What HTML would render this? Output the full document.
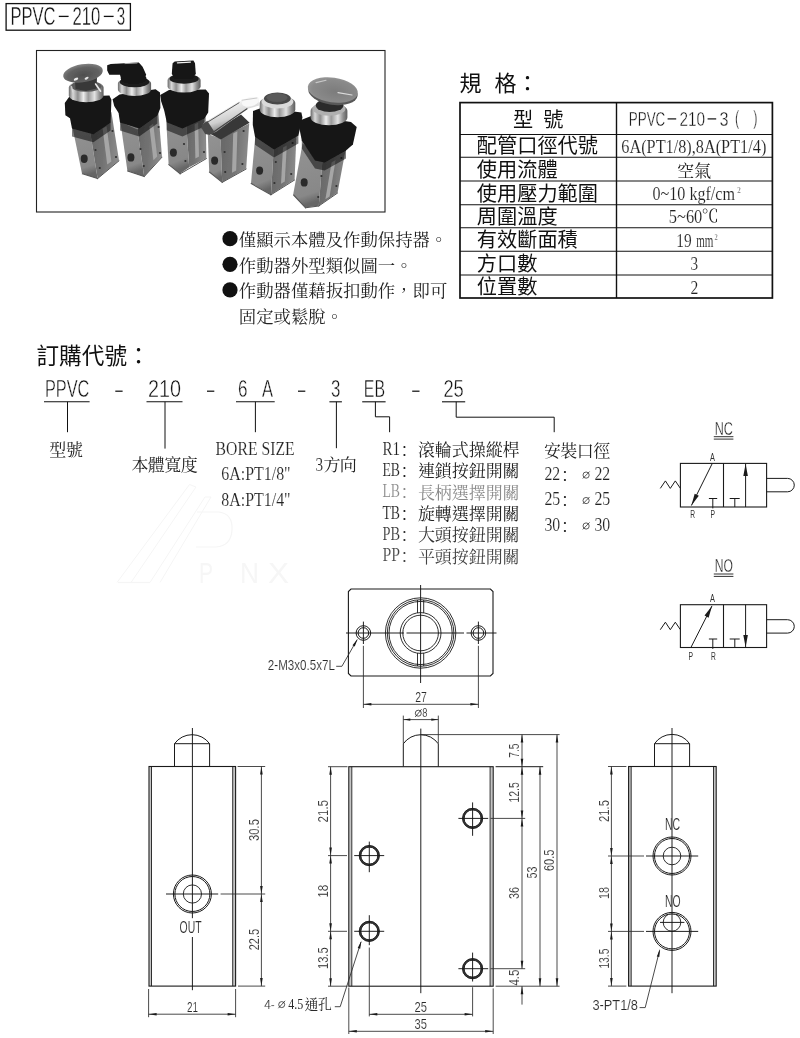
<!DOCTYPE html>
<html lang="zh-Hant"><head><meta charset="utf-8"><title>PPVC-210-3</title>
<style>
html,body{margin:0;padding:0;background:#fff}
body{width:800px;height:1038px;overflow:hidden;font-family:"Liberation Sans",sans-serif}
svg{display:block;opacity:.999}
text{white-space:pre}
</style></head><body>
<svg width="800" height="1038" viewBox="0 0 800 1038">
<rect width="800" height="1038" fill="#fff"/>
<defs>
<filter id="pb" x="-5%" y="-5%" width="110%" height="110%"><feGaussianBlur stdDeviation="0.6"/></filter>
<linearGradient id="gFront" x1="0" y1="0" x2="0.15" y2="1"><stop offset="0" stop-color="#939393"/><stop offset="0.85" stop-color="#888888"/><stop offset="1" stop-color="#666666"/></linearGradient>
<linearGradient id="gSide" x1="0" y1="0" x2="1" y2="0.2"><stop offset="0" stop-color="#676767"/><stop offset="0.55" stop-color="#727272"/><stop offset="1" stop-color="#8a8a8a"/></linearGradient>
<linearGradient id="gChrome" x1="0" y1="0" x2="1" y2="0"><stop offset="0" stop-color="#6a6a6a"/><stop offset="0.12" stop-color="#d8d8d8"/><stop offset="0.26" stop-color="#8e8e8e"/><stop offset="0.42" stop-color="#ececec"/><stop offset="0.56" stop-color="#9a9a9a"/><stop offset="0.74" stop-color="#e2e2e2"/><stop offset="0.88" stop-color="#909090"/><stop offset="1" stop-color="#5c5c5c"/></linearGradient>
<radialGradient id="gCap" cx="0.5" cy="0.6" r="0.62"><stop offset="0" stop-color="#4e4e4e"/><stop offset="0.65" stop-color="#626262"/><stop offset="1" stop-color="#868686"/></radialGradient>
<radialGradient id="gCap2" cx="0.55" cy="0.55" r="0.65"><stop offset="0" stop-color="#7c7c7c"/><stop offset="0.7" stop-color="#8a8a8a"/><stop offset="1" stop-color="#a2a2a2"/></radialGradient>
<linearGradient id="gLever" x1="0" y1="0" x2="0.45" y2="1"><stop offset="0" stop-color="#7a7a7a"/><stop offset="0.3" stop-color="#f4f4f4"/><stop offset="0.65" stop-color="#cfcfcf"/><stop offset="1" stop-color="#5a5a5a"/></linearGradient>
</defs>
<g filter="url(#pb)">
<polygon points="72.0,125.0 90.2,132.0 97.6,178.4 82.0,173.6" fill="url(#gFront)"/>
<polygon points="90.2,132.0 111.4,112.0 119.0,160.4 97.6,178.4" fill="url(#gSide)"/>
<polygon points="102.6,128.6 106.6,126.2 111.4,161.6 107.2,164.6" fill="#a6a6a6"/>
<ellipse cx="84.2" cy="158.8" rx="3.5" ry="4.2" fill="#2a2a2a"/>
<ellipse cx="95.5" cy="150.0" rx="1.1" ry="1.1" fill="#303030"/>
<ellipse cx="99.8" cy="168.0" rx="1.1" ry="1.1" fill="#303030"/>
<ellipse cx="112.5" cy="131.0" rx="1.1" ry="1.1" fill="#303030"/>
<ellipse cx="116.0" cy="157.0" rx="1.1" ry="1.1" fill="#303030"/>
<line x1="82.4" y1="173.8" x2="97.6" y2="178.6" stroke="#555" stroke-width="1.1" stroke-linecap="round"/>
<line x1="97.6" y1="178.6" x2="119.0" y2="160.8" stroke="#555" stroke-width="1.0" stroke-linecap="round"/>
<polygon points="72.0,127.4 93.4,133.2 110.6,121.6 110.6,130.6 93.4,142.2 72.0,136.4" fill="#000" opacity="0.50"/>
<polygon points="64.8,103.0 69.2,96.8 109.4,95.6 111.4,99.8 110.6,122.6 93.4,134.2 72.0,128.4 70.0,118.2 65.4,115.2" fill="#141414"/>
<path d="M68.8 87.6A17.4 6.8 0 0 1 103.6 87.6V95.4A17.4 6.8 0 0 1 68.8 95.4Z" fill="url(#gChrome)"/>
<ellipse cx="86.2" cy="86.2" rx="15.2" ry="5.6" fill="#5a5a5a"/>
<polygon points="75.0,79.0 97.0,78.0 96.5,88.5 86.0,91.0 75.5,89.0" fill="#383838"/>
<line x1="95.6" y1="84.0" x2="100.6" y2="91.2" stroke="#e8e8e8" stroke-width="1.6" stroke-linecap="round"/>
<line x1="71.6" y1="86.6" x2="72.8" y2="92.0" stroke="#d8d8d8" stroke-width="1.2" stroke-linecap="round"/>
<ellipse cx="83.0" cy="73.2" rx="20.0" ry="9.0" fill="url(#gCap)" transform="rotate(-9.5 83.0 73.2)"/>
<ellipse cx="76.0" cy="79.2" rx="2.4" ry="1.2" fill="#ececec" transform="rotate(-25.0 76.0 79.2)"/>
<ellipse cx="86.6" cy="78.2" rx="2.2" ry="1.1" fill="#e4e4e4" transform="rotate(-30.0 86.6 78.2)"/>
<polygon points="120.4,122.0 137.4,129.4 144.2,176.4 127.4,170.8" fill="url(#gFront)"/>
<polygon points="137.4,129.4 158.0,108.0 162.0,156.8 144.2,176.4" fill="url(#gSide)"/>
<polygon points="149.4,126.4 153.2,123.4 157.2,156.4 153.4,160.2" fill="#a6a6a6"/>
<ellipse cx="130.9" cy="157.4" rx="3.5" ry="4.2" fill="#2a2a2a"/>
<ellipse cx="140.5" cy="149.0" rx="1.1" ry="1.1" fill="#303030"/>
<ellipse cx="143.8" cy="166.0" rx="1.1" ry="1.1" fill="#303030"/>
<ellipse cx="158.6" cy="127.0" rx="1.1" ry="1.1" fill="#303030"/>
<ellipse cx="160.0" cy="153.0" rx="1.1" ry="1.1" fill="#303030"/>
<line x1="127.6" y1="171.0" x2="144.2" y2="176.6" stroke="#555" stroke-width="1.1" stroke-linecap="round"/>
<line x1="144.2" y1="176.6" x2="162.0" y2="157.2" stroke="#555" stroke-width="1.0" stroke-linecap="round"/>
<polygon points="120.0,121.6 139.2,127.6 157.4,114.6 157.4,123.6 139.2,136.6 120.0,130.6" fill="#000" opacity="0.50"/>
<polygon points="112.6,99.3 119.6,94.6 155.6,89.2 160.0,92.4 160.4,108.0 157.4,115.6 139.2,128.6 120.0,122.6 118.6,113.0 114.2,106.0" fill="#141414"/>
<path d="M117.9 83.6A16.6 6.6 0 0 1 151.1 83.6V89.4A16.6 6.6 0 0 1 117.9 89.4Z" fill="url(#gChrome)"/>
<ellipse cx="134.5" cy="82.0" rx="14.8" ry="5.2" fill="#1a1a1a"/>
<ellipse cx="133.6" cy="78.4" rx="12.8" ry="5.0" fill="#141414"/>
<polygon points="107.2,65.3 110.8,63.9 138.8,62.4 142.6,66.8 146.2,74.8 143.2,80.4 121.6,80.4 120.0,74.8 109.3,74.8 107.2,70.4" fill="#141414"/>
<line x1="125.0" y1="63.6" x2="137.0" y2="63.0" stroke="#a8a8a8" stroke-width="1.0" stroke-linecap="round"/>
<polygon points="165.8,112.0 186.0,120.0 189.2,167.2 180.2,173.6 168.6,164.2" fill="url(#gFront)"/>
<polygon points="186.0,120.0 205.6,110.0 206.4,158.2 189.2,167.2" fill="url(#gSide)"/>
<polygon points="194.6,124.6 198.2,122.6 199.0,156.4 195.4,158.6" fill="#a6a6a6"/>
<ellipse cx="173.4" cy="152.6" rx="3.5" ry="4.2" fill="#2a2a2a"/>
<ellipse cx="184.0" cy="144.0" rx="1.1" ry="1.1" fill="#303030"/>
<ellipse cx="185.4" cy="161.0" rx="1.1" ry="1.1" fill="#303030"/>
<ellipse cx="203.6" cy="127.0" rx="1.1" ry="1.1" fill="#303030"/>
<ellipse cx="204.0" cy="152.0" rx="1.1" ry="1.1" fill="#303030"/>
<line x1="168.8" y1="164.6" x2="180.2" y2="173.8" stroke="#555" stroke-width="1.1" stroke-linecap="round"/>
<line x1="180.2" y1="173.8" x2="206.4" y2="158.6" stroke="#555" stroke-width="1.0" stroke-linecap="round"/>
<polygon points="166.8,121.2 182.4,127.4 204.4,117.4 204.4,126.4 182.4,136.4 166.8,130.2" fill="#000" opacity="0.50"/>
<polygon points="160.2,95.0 169.0,90.0 205.8,89.6 209.0,93.6 208.2,112.4 204.4,118.4 182.4,128.4 166.8,122.2 164.2,110.6 161.2,101.4" fill="#141414"/>
<path d="M167.6 80.4A16.5 6.4 0 0 1 200.6 80.4V86.2A16.5 6.4 0 0 1 167.6 86.2Z" fill="url(#gChrome)"/>
<ellipse cx="184.1" cy="78.8" rx="14.6" ry="5.0" fill="#1a1a1a"/>
<polygon points="172.6,63.2 174.7,61.4 193.4,60.5 195.0,63.2 195.8,74.0 192.0,78.4 174.7,78.4 171.8,74.0" fill="#141414"/>
<line x1="177.4" y1="62.8" x2="190.4" y2="62.1" stroke="#f2f2f2" stroke-width="1.3" stroke-linecap="round"/>
<polygon points="207.8,134.0 220.6,138.6 222.2,182.2 209.2,171.6" fill="url(#gFront)"/>
<polygon points="220.6,138.6 249.2,123.4 246.2,168.6 222.2,182.2" fill="url(#gSide)"/>
<polygon points="233.2,133.4 237.4,131.2 236.2,170.4 232.0,172.8" fill="#a6a6a6"/>
<ellipse cx="214.6" cy="160.6" rx="3.5" ry="4.2" fill="#2a2a2a"/>
<ellipse cx="224.6" cy="152.0" rx="1.1" ry="1.1" fill="#303030"/>
<ellipse cx="225.2" cy="172.0" rx="1.1" ry="1.1" fill="#303030"/>
<ellipse cx="243.6" cy="131.0" rx="1.1" ry="1.1" fill="#303030"/>
<ellipse cx="242.4" cy="164.0" rx="1.1" ry="1.1" fill="#303030"/>
<line x1="209.4" y1="172.0" x2="222.2" y2="182.4" stroke="#555" stroke-width="1.1" stroke-linecap="round"/>
<line x1="222.2" y1="182.4" x2="246.2" y2="169.0" stroke="#555" stroke-width="1.0" stroke-linecap="round"/>
<polygon points="209.6,133.6 241.0,114.6 249.6,122.8 220.8,139.4" fill="#383838"/>
<polygon points="203.0,123.6 238.6,101.6 246.0,99.4 258.2,97.6 259.0,105.6 247.6,108.8 216.4,131.8 209.4,134.6 204.6,130.4" fill="url(#gLever)"/>
<line x1="204.0" y1="124.4" x2="239.0" y2="102.8" stroke="#5a5a5a" stroke-width="1.0" stroke-linecap="round"/>
<line x1="211.0" y1="133.8" x2="247.0" y2="108.8" stroke="#444" stroke-width="1.2" stroke-linecap="round"/>
<ellipse cx="250.4" cy="101.8" rx="8.6" ry="4.6" fill="#f8f8f8" transform="rotate(-14.0 250.4 101.8)"/>
<line x1="242.0" y1="100.2" x2="256.8" y2="98.0" stroke="#bdbdbd" stroke-width="0.8" stroke-linecap="round"/>
<polygon points="202.6,123.8 207.4,121.0 214.2,131.4 209.6,135.0 205.2,134.0 201.6,128.2" fill="#4a4a4a"/>
<polygon points="255.6,133.0 273.9,144.5 271.0,194.6 251.0,183.2" fill="url(#gFront)"/>
<polygon points="273.9,144.5 296.6,130.0 294.6,179.6 271.0,194.6" fill="url(#gSide)"/>
<polygon points="283.0,147.6 286.8,145.4 284.8,181.4 281.0,183.8" fill="#a6a6a6"/>
<ellipse cx="259.6" cy="170.6" rx="3.5" ry="4.2" fill="#2a2a2a"/>
<ellipse cx="275.8" cy="162.0" rx="1.1" ry="1.1" fill="#303030"/>
<ellipse cx="274.4" cy="183.0" rx="1.1" ry="1.1" fill="#303030"/>
<ellipse cx="292.6" cy="143.0" rx="1.1" ry="1.1" fill="#303030"/>
<ellipse cx="291.2" cy="174.0" rx="1.1" ry="1.1" fill="#303030"/>
<line x1="251.2" y1="183.6" x2="271.0" y2="194.8" stroke="#555" stroke-width="1.1" stroke-linecap="round"/>
<line x1="271.0" y1="194.8" x2="294.6" y2="180.0" stroke="#555" stroke-width="1.0" stroke-linecap="round"/>
<polygon points="255.0,135.8 274.0,148.4 298.4,134.6 298.4,143.6 274.0,157.4 255.0,144.8" fill="#000" opacity="0.50"/>
<polygon points="253.0,111.0 262.5,107.6 301.4,112.6 302.4,117.6 298.4,135.6 274.0,149.4 255.0,136.8 252.8,125.0" fill="#141414"/>
<path d="M259.7 103.0A17.8 7.6 0 0 1 295.3 103.0V109.6A17.8 7.6 0 0 1 259.7 109.6Z" fill="url(#gChrome)"/>
<ellipse cx="277.5" cy="101.8" rx="15.8" ry="6.8" fill="#dadada"/>
<ellipse cx="277.4" cy="98.4" rx="13.4" ry="6.0" fill="#484848"/>
<ellipse cx="277.0" cy="97.6" rx="10.6" ry="4.4" fill="#5a5a5a"/>
<polygon points="302.6,143.6 322.6,158.4 318.8,205.8 305.6,207.6 293.2,194.6" fill="url(#gFront)"/>
<polygon points="322.6,158.4 347.4,140.6 337.6,192.6 318.8,205.8" fill="url(#gSide)"/>
<polygon points="331.6,162.4 335.6,160.0 329.6,196.4 325.4,199.2" fill="#a6a6a6"/>
<ellipse cx="304.2" cy="182.4" rx="3.5" ry="4.2" fill="#2a2a2a"/>
<ellipse cx="321.4" cy="176.0" rx="1.1" ry="1.1" fill="#303030"/>
<ellipse cx="318.2" cy="197.0" rx="1.1" ry="1.1" fill="#303030"/>
<ellipse cx="341.4" cy="158.0" rx="1.1" ry="1.1" fill="#303030"/>
<ellipse cx="336.4" cy="186.0" rx="1.1" ry="1.1" fill="#303030"/>
<line x1="293.6" y1="195.0" x2="305.6" y2="207.8" stroke="#555" stroke-width="1.1" stroke-linecap="round"/>
<line x1="305.6" y1="207.8" x2="318.8" y2="206.0" stroke="#555" stroke-width="1.1" stroke-linecap="round"/>
<line x1="318.8" y1="206.0" x2="337.6" y2="193.0" stroke="#555" stroke-width="1.0" stroke-linecap="round"/>
<polygon points="301.8,139.4 315.0,159.6 324.6,161.6 346.0,149.4 346.0,158.4 324.6,170.6 315.0,168.6 301.8,148.4" fill="#000" opacity="0.50"/>
<polygon points="298.0,121.2 311.2,116.0 351.0,122.0 356.7,126.9 352.9,144.6 346.0,150.4 324.6,162.6 315.0,160.6 301.8,140.4" fill="#141414"/>
<path d="M310.6 110.8A18.4 7.8 0 0 1 347.4 110.8V117.4A18.4 7.8 0 0 1 310.6 117.4Z" fill="url(#gChrome)"/>
<ellipse cx="329.0" cy="108.8" rx="16.4" ry="7.0" fill="#b0b0b0"/>
<ellipse cx="329.6" cy="105.4" rx="13.8" ry="6.6" fill="#2c2c2c"/>
<polygon points="321.0,98.0 343.0,100.0 342.0,108.0 320.0,107.0" fill="#2c2c2c"/>
<ellipse cx="333.0" cy="92.6" rx="24.8" ry="12.2" fill="#585858" transform="rotate(8.0 333.0 92.6)"/>
<ellipse cx="332.8" cy="90.0" rx="25.2" ry="12.4" fill="url(#gCap2)" transform="rotate(8.0 332.8 90.0)"/>
<line x1="316.0" y1="82.6" x2="326.0" y2="80.2" stroke="#c8c8c8" stroke-width="1.1" stroke-linecap="round"/>
<line x1="338.0" y1="92.6" x2="352.0" y2="95.0" stroke="#dadada" stroke-width="1.2" stroke-linecap="round"/>
</g>
<!-- faint watermark -->
<polyline points="117.00,582.50 189.50,484.50 196.00,487.00 131.00,582.50" fill="none" stroke="#f5f5f5" stroke-width="1.00"/>
<polyline points="150.00,582.50 205.00,497.00 211.00,497.00 160.00,582.50" fill="none" stroke="#f5f5f5" stroke-width="1.00"/>
<path d="M197 512h22q14 2 13 18t-16 17h-20" fill="none" stroke="#f5f5f5" stroke-width="1.2"/>
<line x1="118.00" y1="582.50" x2="150.00" y2="582.50" stroke="#f5f5f5" stroke-width="1.20"/>
<text x="199.00" y="582.50" font-family="Liberation Sans, sans-serif" font-size="29.00" fill="#f6f6f6" textLength="14.00" lengthAdjust="spacingAndGlyphs">P</text>
<text x="240.00" y="582.50" font-family="Liberation Sans, sans-serif" font-size="29.00" fill="#f6f6f6" textLength="19.00" lengthAdjust="spacingAndGlyphs">N</text>
<text x="268.00" y="582.50" font-family="Liberation Sans, sans-serif" font-size="29.00" fill="#f6f6f6" textLength="21.00" lengthAdjust="spacingAndGlyphs">X</text>
<!-- title -->
<rect x="6.10" y="3.60" width="124.30" height="26.60" fill="none" stroke="#111" stroke-width="1.30"/>
<text x="10.50" y="25.00" font-family="Liberation Sans, sans-serif" font-size="25.40" fill="#111" textLength="45.00" lengthAdjust="spacingAndGlyphs" stroke="#fff" stroke-width="0.36">PPVC</text>
<line x1="58.80" y1="16.40" x2="68.60" y2="16.40" stroke="#111" stroke-width="1.30"/>
<text x="72.40" y="25.00" font-family="Liberation Sans, sans-serif" font-size="25.40" fill="#111" textLength="27.80" lengthAdjust="spacingAndGlyphs" stroke="#fff" stroke-width="0.36">210</text>
<line x1="103.80" y1="16.40" x2="113.60" y2="16.40" stroke="#111" stroke-width="1.30"/>
<text x="116.80" y="25.00" font-family="Liberation Sans, sans-serif" font-size="25.40" fill="#111" textLength="8.40" lengthAdjust="spacingAndGlyphs" stroke="#fff" stroke-width="0.36">3</text>
<!-- photo frame -->
<rect x="36.50" y="50.50" width="348.50" height="161.50" fill="none" stroke="#222" stroke-width="1.10"/>
<!-- spec heading -->
<text x="459.60" y="90.60" font-family="Liberation Sans, Noto Sans CJK TC, sans-serif" font-size="22.00" fill="#111">規</text>
<text x="494.60" y="90.60" font-family="Liberation Sans, Noto Sans CJK TC, sans-serif" font-size="22.00" fill="#111">格</text>
<text x="516.50" y="90.60" font-family="Liberation Sans, Noto Sans CJK TC, sans-serif" font-size="22.00" fill="#111">：</text>
<!-- spec table -->
<rect x="460.00" y="102.60" width="312.40" height="195.40" fill="none" stroke="#111" stroke-width="1.70"/>
<line x1="616.50" y1="102.60" x2="616.50" y2="298.00" stroke="#111" stroke-width="1.40"/>
<line x1="460.00" y1="134.50" x2="772.40" y2="134.50" stroke="#111" stroke-width="1.10"/>
<line x1="460.00" y1="157.20" x2="772.40" y2="157.20" stroke="#111" stroke-width="1.10"/>
<line x1="460.00" y1="181.00" x2="772.40" y2="181.00" stroke="#111" stroke-width="1.10"/>
<line x1="460.00" y1="204.70" x2="772.40" y2="204.70" stroke="#111" stroke-width="1.10"/>
<line x1="460.00" y1="227.80" x2="772.40" y2="227.80" stroke="#111" stroke-width="1.10"/>
<line x1="460.00" y1="251.30" x2="772.40" y2="251.30" stroke="#111" stroke-width="1.10"/>
<line x1="460.00" y1="275.00" x2="772.40" y2="275.00" stroke="#111" stroke-width="1.10"/>
<text x="513.00" y="126.70" font-family="Liberation Sans, Noto Sans CJK TC, sans-serif" font-size="20.20" fill="#111">型</text>
<text x="543.20" y="126.70" font-family="Liberation Sans, Noto Sans CJK TC, sans-serif" font-size="20.20" fill="#111">號</text>
<text x="476.80" y="153.20" font-family="Liberation Sans, Noto Sans CJK TC, sans-serif" font-size="20.20" fill="#111" textLength="121.20">配管口徑代號</text>
<text x="476.80" y="177.00" font-family="Liberation Sans, Noto Sans CJK TC, sans-serif" font-size="20.20" fill="#111" textLength="80.80">使用流體</text>
<text x="476.80" y="200.60" font-family="Liberation Sans, Noto Sans CJK TC, sans-serif" font-size="20.20" fill="#111" textLength="121.20">使用壓力範圍</text>
<text x="476.80" y="224.00" font-family="Liberation Sans, Noto Sans CJK TC, sans-serif" font-size="20.20" fill="#111" textLength="80.80">周圍溫度</text>
<text x="476.80" y="247.30" font-family="Liberation Sans, Noto Sans CJK TC, sans-serif" font-size="20.20" fill="#111" textLength="101.00">有效斷面積</text>
<text x="476.80" y="270.60" font-family="Liberation Sans, Noto Sans CJK TC, sans-serif" font-size="20.20" fill="#111" textLength="60.60">方口數</text>
<text x="476.80" y="293.70" font-family="Liberation Sans, Noto Sans CJK TC, sans-serif" font-size="20.20" fill="#111" textLength="60.60">位置數</text>
<text x="628.80" y="125.80" font-family="Liberation Sans, sans-serif" font-size="21.00" fill="#111" textLength="36.40" lengthAdjust="spacingAndGlyphs" stroke="#fff" stroke-width="0.42">PPVC</text>
<line x1="667.60" y1="118.90" x2="676.20" y2="118.90" stroke="#111" stroke-width="1.20"/>
<text x="679.40" y="125.80" font-family="Liberation Sans, sans-serif" font-size="21.00" fill="#111" textLength="25.60" lengthAdjust="spacingAndGlyphs" stroke="#fff" stroke-width="0.42">210</text>
<line x1="707.60" y1="118.90" x2="716.20" y2="118.90" stroke="#111" stroke-width="1.20"/>
<text x="719.60" y="125.80" font-family="Liberation Sans, sans-serif" font-size="21.00" fill="#111" textLength="9.00" lengthAdjust="spacingAndGlyphs" stroke="#fff" stroke-width="0.42">3</text>
<text x="735.00" y="125.30" font-family="Liberation Sans, sans-serif" font-size="20.00" fill="#111" textLength="4.20" lengthAdjust="spacingAndGlyphs" stroke="#fff" stroke-width="0.42">(</text>
<text x="753.20" y="125.30" font-family="Liberation Sans, sans-serif" font-size="20.00" fill="#111" textLength="4.20" lengthAdjust="spacingAndGlyphs" stroke="#fff" stroke-width="0.42">)</text>
<text x="621.30" y="153.30" font-family="Liberation Serif, sans-serif" font-size="19.00" fill="#222" textLength="145.00" lengthAdjust="spacingAndGlyphs" stroke="#fff" stroke-width="0.14">6A(PT1/8),8A(PT1/4)</text>
<text x="676.90" y="176.90" font-family="Liberation Serif, Noto Serif CJK SC, serif" font-size="17.20" fill="#222" textLength="34.40">空氣</text>
<text x="652.50" y="199.80" font-family="Liberation Serif, sans-serif" font-size="19.00" fill="#222" textLength="82.50" lengthAdjust="spacingAndGlyphs" stroke="#fff" stroke-width="0.14">0~10 kgf/cm</text>
<text x="737.20" y="192.50" font-family="Liberation Serif, sans-serif" font-size="8.00" fill="#222" textLength="3.50" lengthAdjust="spacingAndGlyphs" stroke="#fff" stroke-width="0.14">2</text>
<text x="668.80" y="223.30" font-family="Liberation Serif, sans-serif" font-size="19.00" fill="#222" textLength="33.50" lengthAdjust="spacingAndGlyphs" stroke="#fff" stroke-width="0.14">5~60</text>
<text x="701.50" y="222.40" font-family="Liberation Serif, Noto Serif CJK SC, serif" font-size="17.20" fill="#222">℃</text>
<text x="676.30" y="247.00" font-family="Liberation Serif, sans-serif" font-size="19.00" fill="#222" textLength="15.40" lengthAdjust="spacingAndGlyphs" stroke="#fff" stroke-width="0.14">19</text>
<text x="696.20" y="247.00" font-family="Liberation Serif, sans-serif" font-size="19.00" fill="#222" textLength="17.20" lengthAdjust="spacingAndGlyphs" stroke="#fff" stroke-width="0.14">mm</text>
<text x="714.60" y="239.60" font-family="Liberation Serif, sans-serif" font-size="8.00" fill="#222" textLength="3.20" lengthAdjust="spacingAndGlyphs" stroke="#fff" stroke-width="0.14">2</text>
<text x="690.60" y="270.30" font-family="Liberation Serif, sans-serif" font-size="19.00" fill="#222" textLength="7.60" lengthAdjust="spacingAndGlyphs" stroke="#fff" stroke-width="0.14">3</text>
<text x="690.40" y="293.60" font-family="Liberation Serif, sans-serif" font-size="19.00" fill="#222" textLength="7.80" lengthAdjust="spacingAndGlyphs" stroke="#fff" stroke-width="0.14">2</text>
<!-- bullets -->
<circle cx="230.00" cy="238.70" r="7.60" fill="#111" stroke="none" stroke-width="0.00"/>
<text x="238.80" y="245.90" font-family="Liberation Serif, Noto Serif CJK SC, serif" font-size="17.40" fill="#222" textLength="208.56">僅顯示本體及作動保持器。</text>
<circle cx="230.00" cy="264.30" r="7.60" fill="#111" stroke="none" stroke-width="0.00"/>
<text x="238.80" y="271.50" font-family="Liberation Serif, Noto Serif CJK SC, serif" font-size="17.40" fill="#222" textLength="173.80">作動器外型類似圖一。</text>
<circle cx="230.00" cy="289.90" r="7.60" fill="#111" stroke="none" stroke-width="0.00"/>
<text x="238.80" y="297.10" font-family="Liberation Serif, Noto Serif CJK SC, serif" font-size="17.40" fill="#222" textLength="208.56">作動器僅藉扳扣動作，即可</text>
<text x="238.80" y="322.70" font-family="Liberation Serif, Noto Serif CJK SC, serif" font-size="17.40" fill="#222" textLength="104.28">固定或鬆脫。</text>
<!-- order heading -->
<text x="36.40" y="364.40" font-family="Liberation Sans, Noto Sans CJK TC, sans-serif" font-size="22.60" fill="#111" textLength="90.60">訂購代號</text>
<text x="127.30" y="364.40" font-family="Liberation Sans, Noto Sans CJK TC, sans-serif" font-size="22.60" fill="#111">：</text>
<!-- order code -->
<text x="45.00" y="396.60" font-family="Liberation Sans, sans-serif" font-size="23.00" fill="#111" textLength="44.40" lengthAdjust="spacingAndGlyphs" stroke="#fff" stroke-width="0.42">PPVC</text>
<line x1="115.30" y1="391.20" x2="122.60" y2="391.20" stroke="#111" stroke-width="1.25"/>
<text x="148.00" y="396.60" font-family="Liberation Sans, sans-serif" font-size="23.00" fill="#111" textLength="33.00" lengthAdjust="spacingAndGlyphs" stroke="#fff" stroke-width="0.42">210</text>
<line x1="207.00" y1="391.20" x2="214.30" y2="391.20" stroke="#111" stroke-width="1.25"/>
<text x="238.00" y="396.60" font-family="Liberation Sans, sans-serif" font-size="23.00" fill="#111" textLength="9.50" lengthAdjust="spacingAndGlyphs" stroke="#fff" stroke-width="0.42">6</text>
<text x="262.00" y="396.60" font-family="Liberation Sans, sans-serif" font-size="23.00" fill="#111" textLength="11.00" lengthAdjust="spacingAndGlyphs" stroke="#fff" stroke-width="0.42">A</text>
<line x1="298.00" y1="391.20" x2="305.30" y2="391.20" stroke="#111" stroke-width="1.25"/>
<text x="331.00" y="396.60" font-family="Liberation Sans, sans-serif" font-size="23.00" fill="#111" textLength="9.40" lengthAdjust="spacingAndGlyphs" stroke="#fff" stroke-width="0.42">3</text>
<text x="363.80" y="396.60" font-family="Liberation Sans, sans-serif" font-size="23.00" fill="#111" textLength="21.20" lengthAdjust="spacingAndGlyphs" stroke="#fff" stroke-width="0.42">EB</text>
<line x1="412.20" y1="391.20" x2="419.50" y2="391.20" stroke="#111" stroke-width="1.25"/>
<text x="443.40" y="396.60" font-family="Liberation Sans, sans-serif" font-size="23.00" fill="#111" textLength="20.40" lengthAdjust="spacingAndGlyphs" stroke="#fff" stroke-width="0.42">25</text>
<line x1="44.00" y1="401.80" x2="89.60" y2="401.80" stroke="#111" stroke-width="1.10"/>
<line x1="146.50" y1="401.80" x2="182.50" y2="401.80" stroke="#111" stroke-width="1.10"/>
<line x1="236.00" y1="401.80" x2="274.70" y2="401.80" stroke="#111" stroke-width="1.10"/>
<line x1="329.40" y1="401.80" x2="341.90" y2="401.80" stroke="#111" stroke-width="1.10"/>
<line x1="362.20" y1="401.80" x2="385.60" y2="401.80" stroke="#111" stroke-width="1.10"/>
<line x1="442.00" y1="401.80" x2="465.20" y2="401.80" stroke="#111" stroke-width="1.10"/>
<line x1="67.50" y1="401.80" x2="67.50" y2="432.20" stroke="#111" stroke-width="1.00"/>
<line x1="165.00" y1="401.80" x2="165.00" y2="448.60" stroke="#111" stroke-width="1.00"/>
<line x1="255.40" y1="401.80" x2="255.40" y2="432.20" stroke="#111" stroke-width="1.00"/>
<line x1="336.40" y1="401.80" x2="336.40" y2="448.20" stroke="#111" stroke-width="1.00"/>
<polyline points="375.40,401.80 375.40,416.80 389.60,416.80 389.60,432.20" fill="none" stroke="#111" stroke-width="1.00"/>
<polyline points="456.20,401.80 456.20,417.20 554.20,417.20 554.20,432.20" fill="none" stroke="#111" stroke-width="1.00"/>
<!-- order labels -->
<text x="49.30" y="455.90" font-family="Liberation Serif, Noto Serif CJK SC, serif" font-size="17.00" fill="#222" textLength="33.80">型號</text>
<text x="131.40" y="470.80" font-family="Liberation Serif, Noto Serif CJK SC, serif" font-size="17.00" fill="#222" textLength="66.40">本體寬度</text>
<text x="215.60" y="454.70" font-family="Liberation Serif, sans-serif" font-size="18.60" fill="#222" textLength="79.00" lengthAdjust="spacingAndGlyphs" stroke="#fff" stroke-width="0.15">BORE SIZE</text>
<text x="221.30" y="479.70" font-family="Liberation Serif, sans-serif" font-size="18.60" fill="#222" textLength="69.30" lengthAdjust="spacingAndGlyphs" stroke="#fff" stroke-width="0.15">6A:PT1/8"</text>
<text x="221.30" y="505.60" font-family="Liberation Serif, sans-serif" font-size="18.60" fill="#222" textLength="69.30" lengthAdjust="spacingAndGlyphs" stroke="#fff" stroke-width="0.15">8A:PT1/4"</text>
<text x="315.60" y="471.20" font-family="Liberation Serif, sans-serif" font-size="18.60" fill="#222" textLength="7.60" lengthAdjust="spacingAndGlyphs" stroke="#fff" stroke-width="0.15">3</text>
<text x="323.60" y="471.20" font-family="Liberation Serif, Noto Serif CJK SC, serif" font-size="17.00" fill="#222" textLength="33.20">方向</text>
<text x="382.40" y="454.70" font-family="Liberation Serif, sans-serif" font-size="18.60" fill="#222" textLength="17.60" lengthAdjust="spacingAndGlyphs" stroke="#fff" stroke-width="0.15">R1</text>
<text x="400.60" y="455.70" font-family="Liberation Serif, Noto Serif CJK SC, serif" font-size="17.00" fill="#222">：</text>
<text x="417.90" y="456.10" font-family="Liberation Serif, Noto Serif CJK SC, serif" font-size="17.00" fill="#222" textLength="101.70">滾輪式操縱桿</text>
<text x="382.40" y="476.00" font-family="Liberation Serif, sans-serif" font-size="18.60" fill="#222" textLength="17.60" lengthAdjust="spacingAndGlyphs" stroke="#fff" stroke-width="0.15">EB</text>
<text x="400.60" y="477.00" font-family="Liberation Serif, Noto Serif CJK SC, serif" font-size="17.00" fill="#222">：</text>
<text x="417.90" y="477.40" font-family="Liberation Serif, Noto Serif CJK SC, serif" font-size="17.00" fill="#222" textLength="101.70">連鎖按鈕開關</text>
<text x="382.40" y="497.30" font-family="Liberation Serif, sans-serif" font-size="18.60" fill="#8a8a8a" textLength="17.60" lengthAdjust="spacingAndGlyphs" stroke="#fff" stroke-width="0.15">LB</text>
<text x="400.60" y="498.30" font-family="Liberation Serif, Noto Serif CJK SC, serif" font-size="17.00" fill="#8a8a8a">：</text>
<text x="417.90" y="498.70" font-family="Liberation Serif, Noto Serif CJK SC, serif" font-size="17.00" fill="#8a8a8a" textLength="101.70">長柄選擇開關</text>
<text x="382.40" y="518.60" font-family="Liberation Serif, sans-serif" font-size="18.60" fill="#222" textLength="17.60" lengthAdjust="spacingAndGlyphs" stroke="#fff" stroke-width="0.15">TB</text>
<text x="400.60" y="519.60" font-family="Liberation Serif, Noto Serif CJK SC, serif" font-size="17.00" fill="#222">：</text>
<text x="417.90" y="520.00" font-family="Liberation Serif, Noto Serif CJK SC, serif" font-size="17.00" fill="#222" textLength="101.70">旋轉選擇開關</text>
<text x="382.40" y="539.90" font-family="Liberation Serif, sans-serif" font-size="18.60" fill="#333" textLength="17.60" lengthAdjust="spacingAndGlyphs" stroke="#fff" stroke-width="0.15">PB</text>
<text x="400.60" y="540.90" font-family="Liberation Serif, Noto Serif CJK SC, serif" font-size="17.00" fill="#333">：</text>
<text x="417.90" y="541.30" font-family="Liberation Serif, Noto Serif CJK SC, serif" font-size="17.00" fill="#333" textLength="101.70">大頭按鈕開關</text>
<text x="382.40" y="561.20" font-family="Liberation Serif, sans-serif" font-size="18.60" fill="#444" textLength="17.60" lengthAdjust="spacingAndGlyphs" stroke="#fff" stroke-width="0.15">PP</text>
<text x="400.60" y="562.20" font-family="Liberation Serif, Noto Serif CJK SC, serif" font-size="17.00" fill="#444">：</text>
<text x="417.90" y="562.60" font-family="Liberation Serif, Noto Serif CJK SC, serif" font-size="17.00" fill="#444" textLength="101.70">平頭按鈕開關</text>
<text x="543.90" y="456.60" font-family="Liberation Serif, Noto Serif CJK SC, serif" font-size="17.00" fill="#222" textLength="66.40">安裝口徑</text>
<text x="544.40" y="479.70" font-family="Liberation Serif, sans-serif" font-size="18.60" fill="#222" textLength="15.80" lengthAdjust="spacingAndGlyphs" stroke="#fff" stroke-width="0.15">22</text>
<text x="561.00" y="480.70" font-family="Liberation Serif, Noto Serif CJK SC, serif" font-size="17.00" fill="#222">：</text>
<circle cx="586.10" cy="475.10" r="3.10" fill="none" stroke="#333" stroke-width="0.80"/>
<line x1="582.80" y1="478.50" x2="589.60" y2="471.50" stroke="#333" stroke-width="0.80"/>
<text x="594.40" y="479.70" font-family="Liberation Serif, sans-serif" font-size="18.60" fill="#222" textLength="15.80" lengthAdjust="spacingAndGlyphs" stroke="#fff" stroke-width="0.15">22</text>
<text x="544.40" y="505.15" font-family="Liberation Serif, sans-serif" font-size="18.60" fill="#222" textLength="15.80" lengthAdjust="spacingAndGlyphs" stroke="#fff" stroke-width="0.15">25</text>
<text x="561.00" y="506.15" font-family="Liberation Serif, Noto Serif CJK SC, serif" font-size="17.00" fill="#222">：</text>
<circle cx="586.10" cy="500.55" r="3.10" fill="none" stroke="#333" stroke-width="0.80"/>
<line x1="582.80" y1="503.95" x2="589.60" y2="496.95" stroke="#333" stroke-width="0.80"/>
<text x="594.40" y="505.15" font-family="Liberation Serif, sans-serif" font-size="18.60" fill="#222" textLength="15.80" lengthAdjust="spacingAndGlyphs" stroke="#fff" stroke-width="0.15">25</text>
<text x="544.40" y="530.60" font-family="Liberation Serif, sans-serif" font-size="18.60" fill="#222" textLength="15.80" lengthAdjust="spacingAndGlyphs" stroke="#fff" stroke-width="0.15">30</text>
<text x="561.00" y="531.60" font-family="Liberation Serif, Noto Serif CJK SC, serif" font-size="17.00" fill="#222">：</text>
<circle cx="586.10" cy="526.00" r="3.10" fill="none" stroke="#333" stroke-width="0.80"/>
<line x1="582.80" y1="529.40" x2="589.60" y2="522.40" stroke="#333" stroke-width="0.80"/>
<text x="594.40" y="530.60" font-family="Liberation Serif, sans-serif" font-size="18.60" fill="#222" textLength="15.80" lengthAdjust="spacingAndGlyphs" stroke="#fff" stroke-width="0.15">30</text>
<!-- NC / NO symbols -->
<text x="714.70" y="434.80" font-family="Liberation Sans, sans-serif" font-size="18.60" fill="#1a1a1a" textLength="18.20" lengthAdjust="spacingAndGlyphs" stroke="#fff" stroke-width="0.32">NC</text>
<line x1="713.80" y1="436.70" x2="733.40" y2="436.70" stroke="#1a1a1a" stroke-width="0.90"/>
<line x1="713.80" y1="439.10" x2="733.40" y2="439.10" stroke="#1a1a1a" stroke-width="0.90"/>
<rect x="680.40" y="463.40" width="86.20" height="43.60" fill="none" stroke="#1a1a1a" stroke-width="1.10"/>
<line x1="723.50" y1="463.40" x2="723.50" y2="507.00" stroke="#1a1a1a" stroke-width="1.10"/>
<line x1="745.60" y1="463.40" x2="745.60" y2="507.00" stroke="#1a1a1a" stroke-width="1.00"/>
<polygon points="745.60,463.90 747.90,475.90 743.30,475.90" fill="#1a1a1a"/>
<line x1="734.80" y1="507.00" x2="734.80" y2="498.50" stroke="#1a1a1a" stroke-width="1.00"/>
<line x1="729.70" y1="498.50" x2="739.70" y2="498.50" stroke="#1a1a1a" stroke-width="1.00"/>
<line x1="712.80" y1="508.40" x2="712.80" y2="498.50" stroke="#1a1a1a" stroke-width="1.00"/>
<line x1="708.90" y1="498.50" x2="717.20" y2="498.50" stroke="#1a1a1a" stroke-width="1.00"/>
<line x1="712.30" y1="463.40" x2="691.40" y2="505.50" stroke="#1a1a1a" stroke-width="1.00"/>
<polygon points="691.40,505.50 694.68,493.73 698.80,495.77" fill="#1a1a1a"/>
<text x="709.90" y="460.60" font-family="Liberation Sans, sans-serif" font-size="10.20" fill="#333" textLength="4.90" lengthAdjust="spacingAndGlyphs">A</text>
<text x="690.30" y="518.40" font-family="Liberation Sans, sans-serif" font-size="10.20" fill="#333" textLength="4.80" lengthAdjust="spacingAndGlyphs">R</text>
<text x="710.40" y="518.40" font-family="Liberation Sans, sans-serif" font-size="10.20" fill="#333" textLength="4.50" lengthAdjust="spacingAndGlyphs">P</text>
<polyline points="660.30,488.40 665.40,480.90 670.30,488.40 675.30,480.90 680.40,488.40" fill="none" stroke="#1a1a1a" stroke-width="1.00"/>
<path d="M766.60 478.40H787.60A6.70 6.70 0 0 1 787.60 491.80H766.60" fill="none" stroke="#1a1a1a" stroke-width="1.0"/>
<text x="714.70" y="572.00" font-family="Liberation Sans, sans-serif" font-size="18.60" fill="#1a1a1a" textLength="18.20" lengthAdjust="spacingAndGlyphs" stroke="#fff" stroke-width="0.32">NO</text>
<line x1="713.80" y1="574.00" x2="733.40" y2="574.00" stroke="#1a1a1a" stroke-width="0.90"/>
<line x1="713.80" y1="576.40" x2="733.40" y2="576.40" stroke="#1a1a1a" stroke-width="0.90"/>
<rect x="680.40" y="604.70" width="86.20" height="42.80" fill="none" stroke="#1a1a1a" stroke-width="1.10"/>
<line x1="723.50" y1="604.70" x2="723.50" y2="647.50" stroke="#1a1a1a" stroke-width="1.10"/>
<line x1="745.60" y1="604.70" x2="745.60" y2="647.50" stroke="#1a1a1a" stroke-width="1.00"/>
<polygon points="745.60,647.00 743.30,635.00 747.90,635.00" fill="#1a1a1a"/>
<line x1="734.80" y1="647.50" x2="734.80" y2="639.00" stroke="#1a1a1a" stroke-width="1.00"/>
<line x1="729.70" y1="639.00" x2="739.70" y2="639.00" stroke="#1a1a1a" stroke-width="1.00"/>
<line x1="712.80" y1="648.90" x2="712.80" y2="639.00" stroke="#1a1a1a" stroke-width="1.00"/>
<line x1="708.90" y1="639.00" x2="717.20" y2="639.00" stroke="#1a1a1a" stroke-width="1.00"/>
<line x1="690.90" y1="647.50" x2="712.00" y2="605.90" stroke="#1a1a1a" stroke-width="1.00"/>
<polygon points="712.00,605.90 708.62,617.64 704.52,615.56" fill="#1a1a1a"/>
<text x="709.90" y="601.90" font-family="Liberation Sans, sans-serif" font-size="10.20" fill="#333" textLength="4.90" lengthAdjust="spacingAndGlyphs">A</text>
<text x="688.40" y="659.70" font-family="Liberation Sans, sans-serif" font-size="10.20" fill="#333" textLength="4.50" lengthAdjust="spacingAndGlyphs">P</text>
<text x="711.00" y="659.70" font-family="Liberation Sans, sans-serif" font-size="10.20" fill="#333" textLength="4.80" lengthAdjust="spacingAndGlyphs">R</text>
<polyline points="660.30,629.70 665.40,622.20 670.30,629.70 675.30,622.20 680.40,629.70" fill="none" stroke="#1a1a1a" stroke-width="1.00"/>
<path d="M766.60 619.70H787.60A6.70 6.70 0 0 1 787.60 633.10H766.60" fill="none" stroke="#1a1a1a" stroke-width="1.0"/>
<!-- top view -->
<polygon points="351.00,589.00 490.40,589.00 493.00,591.60 493.00,673.40 490.40,676.00 351.00,676.00 348.40,673.40 348.40,591.60" fill="none" stroke="#1a1a1a" stroke-width="1.10"/>
<circle cx="420.60" cy="633.00" r="35.20" fill="none" stroke="#1a1a1a" stroke-width="0.90"/>
<circle cx="420.60" cy="633.00" r="33.30" fill="none" stroke="#1a1a1a" stroke-width="0.90"/>
<circle cx="420.60" cy="633.00" r="31.60" fill="none" stroke="#1a1a1a" stroke-width="0.90"/>
<circle cx="420.60" cy="633.00" r="20.40" fill="none" stroke="#1a1a1a" stroke-width="0.90"/>
<circle cx="420.60" cy="633.00" r="17.80" fill="none" stroke="#1a1a1a" stroke-width="0.90"/>
<line x1="417.50" y1="600.00" x2="417.50" y2="613.00" stroke="#1a1a1a" stroke-width="0.90"/>
<line x1="417.50" y1="653.00" x2="417.50" y2="666.00" stroke="#1a1a1a" stroke-width="0.90"/>
<line x1="423.70" y1="600.00" x2="423.70" y2="613.00" stroke="#1a1a1a" stroke-width="0.90"/>
<line x1="423.70" y1="653.00" x2="423.70" y2="666.00" stroke="#1a1a1a" stroke-width="0.90"/>
<circle cx="363.40" cy="633.00" r="7.30" fill="none" stroke="#1a1a1a" stroke-width="1.00"/>
<circle cx="363.40" cy="633.00" r="5.30" fill="none" stroke="#1a1a1a" stroke-width="1.00"/>
<line x1="363.40" y1="621.60" x2="363.40" y2="644.00" stroke="#141414" stroke-width="0.95"/>
<line x1="363.40" y1="645.80" x2="363.40" y2="708.00" stroke="#2a2a2a" stroke-width="0.85"/>
<circle cx="478.40" cy="633.00" r="7.30" fill="none" stroke="#1a1a1a" stroke-width="1.00"/>
<circle cx="478.40" cy="633.00" r="5.30" fill="none" stroke="#1a1a1a" stroke-width="1.00"/>
<line x1="478.40" y1="621.60" x2="478.40" y2="644.00" stroke="#141414" stroke-width="0.95"/>
<line x1="478.40" y1="645.80" x2="478.40" y2="708.00" stroke="#2a2a2a" stroke-width="0.85"/>
<line x1="346.00" y1="633.00" x2="404.00" y2="633.00" stroke="#141414" stroke-width="0.95"/>
<line x1="406.50" y1="633.00" x2="464.00" y2="633.00" stroke="#141414" stroke-width="0.95"/>
<line x1="466.50" y1="633.00" x2="496.50" y2="633.00" stroke="#141414" stroke-width="0.95"/>
<line x1="420.60" y1="585.00" x2="420.60" y2="683.00" stroke="#141414" stroke-width="0.95"/>
<line x1="363.40" y1="704.30" x2="478.40" y2="704.30" stroke="#2a2a2a" stroke-width="0.85"/>
<polygon points="363.40,704.30 371.40,703.00 371.40,705.60" fill="#1a1a1a"/>
<polygon points="478.40,704.30 470.40,705.60 470.40,703.00" fill="#1a1a1a"/>
<text x="415.20" y="701.66" font-family="Liberation Sans, sans-serif" font-size="13.90" fill="#2a2a2a" textLength="11.60" lengthAdjust="spacingAndGlyphs" stroke="#fff" stroke-width="0.15">27</text>
<text x="267.80" y="670.30" font-family="Liberation Sans, sans-serif" font-size="14.80" fill="#2a2a2a" textLength="67.20" lengthAdjust="spacingAndGlyphs" stroke="#fff" stroke-width="0.15">2-M3x0.5x7L</text>
<polyline points="336.20,666.30 341.90,666.30 357.20,639.60" fill="none" stroke="#2a2a2a" stroke-width="0.85"/>
<polygon points="357.60,638.90 354.75,646.49 352.49,645.19" fill="#1a1a1a"/>
<!-- front view -->
<circle cx="418.30" cy="713.20" r="3.00" fill="none" stroke="#2a2a2a" stroke-width="0.80"/>
<line x1="415.20" y1="717.00" x2="421.60" y2="709.20" stroke="#2a2a2a" stroke-width="0.80"/>
<text x="422.20" y="717.30" font-family="Liberation Sans, sans-serif" font-size="13.40" fill="#2a2a2a" textLength="5.20" lengthAdjust="spacingAndGlyphs" stroke="#fff" stroke-width="0.15">8</text>
<line x1="403.30" y1="719.60" x2="438.30" y2="719.60" stroke="#2a2a2a" stroke-width="0.85"/>
<polygon points="403.30,719.60 410.30,718.40 410.30,720.80" fill="#1a1a1a"/>
<polygon points="438.30,719.60 431.30,720.80 431.30,718.40" fill="#1a1a1a"/>
<line x1="403.30" y1="715.60" x2="403.30" y2="743.50" stroke="#2a2a2a" stroke-width="0.85"/>
<line x1="438.30" y1="715.60" x2="438.30" y2="743.50" stroke="#2a2a2a" stroke-width="0.85"/>
<path d="M403.3 766.6V743.8A21.4 21.4 0 0 1 438.3 743.8V766.6" fill="none" stroke="#1a1a1a" stroke-width="1"/>
<rect x="349.30" y="766.70" width="2.20" height="219.50" fill="#c4c4c4" stroke="none" stroke-width="0.00"/>
<rect x="490.40" y="766.70" width="2.40" height="219.50" fill="#c4c4c4" stroke="none" stroke-width="0.00"/>
<rect x="348.80" y="766.70" width="144.40" height="219.50" fill="none" stroke="#1a1a1a" stroke-width="1.10"/>
<line x1="351.80" y1="766.70" x2="351.80" y2="986.20" stroke="#1a1a1a" stroke-width="0.90"/>
<line x1="490.10" y1="766.70" x2="490.10" y2="986.20" stroke="#1a1a1a" stroke-width="0.90"/>
<line x1="420.80" y1="728.60" x2="420.80" y2="993.20" stroke="#141414" stroke-width="0.95"/>
<circle cx="472.60" cy="818.40" r="9.35" fill="none" stroke="#3a3a3a" stroke-width="2.00"/>
<circle cx="472.60" cy="818.40" r="10.10" fill="none" stroke="#1a1a1a" stroke-width="0.90"/>
<circle cx="472.60" cy="818.40" r="8.50" fill="none" stroke="#1a1a1a" stroke-width="0.90"/>
<circle cx="369.30" cy="855.60" r="9.35" fill="none" stroke="#3a3a3a" stroke-width="2.00"/>
<circle cx="369.30" cy="855.60" r="10.10" fill="none" stroke="#1a1a1a" stroke-width="0.90"/>
<circle cx="369.30" cy="855.60" r="8.50" fill="none" stroke="#1a1a1a" stroke-width="0.90"/>
<circle cx="369.30" cy="931.30" r="9.35" fill="none" stroke="#3a3a3a" stroke-width="2.00"/>
<circle cx="369.30" cy="931.30" r="10.10" fill="none" stroke="#1a1a1a" stroke-width="0.90"/>
<circle cx="369.30" cy="931.30" r="8.50" fill="none" stroke="#1a1a1a" stroke-width="0.90"/>
<circle cx="472.60" cy="968.70" r="9.35" fill="none" stroke="#3a3a3a" stroke-width="2.00"/>
<circle cx="472.60" cy="968.70" r="10.10" fill="none" stroke="#1a1a1a" stroke-width="0.90"/>
<circle cx="472.60" cy="968.70" r="8.50" fill="none" stroke="#1a1a1a" stroke-width="0.90"/>
<line x1="458.40" y1="818.40" x2="488.20" y2="818.40" stroke="#141414" stroke-width="0.95"/>
<line x1="472.60" y1="802.40" x2="472.60" y2="835.80" stroke="#141414" stroke-width="0.95"/>
<line x1="458.40" y1="968.70" x2="488.20" y2="968.70" stroke="#141414" stroke-width="0.95"/>
<line x1="472.60" y1="952.60" x2="472.60" y2="981.50" stroke="#141414" stroke-width="0.95"/>
<line x1="328.00" y1="855.60" x2="347.00" y2="855.60" stroke="#2a2a2a" stroke-width="0.85"/>
<line x1="354.20" y1="855.60" x2="384.20" y2="855.60" stroke="#141414" stroke-width="0.95"/>
<line x1="369.30" y1="841.60" x2="369.30" y2="872.20" stroke="#141414" stroke-width="0.95"/>
<line x1="328.00" y1="931.30" x2="347.00" y2="931.30" stroke="#2a2a2a" stroke-width="0.85"/>
<line x1="354.20" y1="931.30" x2="384.20" y2="931.30" stroke="#141414" stroke-width="0.95"/>
<line x1="369.30" y1="915.20" x2="369.30" y2="945.20" stroke="#141414" stroke-width="0.95"/>
<line x1="328.00" y1="766.70" x2="347.50" y2="766.70" stroke="#2a2a2a" stroke-width="0.85"/>
<line x1="328.00" y1="986.20" x2="347.50" y2="986.20" stroke="#2a2a2a" stroke-width="0.85"/>
<line x1="330.60" y1="766.70" x2="330.60" y2="986.20" stroke="#2a2a2a" stroke-width="0.85"/>
<polygon points="330.60,855.60 329.30,847.60 331.90,847.60" fill="#1a1a1a"/>
<polygon points="330.60,855.60 331.90,863.60 329.30,863.60" fill="#1a1a1a"/>
<polygon points="330.60,931.30 329.30,923.30 331.90,923.30" fill="#1a1a1a"/>
<polygon points="330.60,931.30 331.90,939.30 329.30,939.30" fill="#1a1a1a"/>
<polygon points="330.60,766.70 331.90,774.70 329.30,774.70" fill="#1a1a1a"/>
<polygon points="330.60,986.20 329.30,978.20 331.90,978.20" fill="#1a1a1a"/>
<g transform="translate(322.80 811.20) rotate(-90)">
<text x="-11.20" y="4.87" font-family="Liberation Sans, sans-serif" font-size="13.90" fill="#2a2a2a" textLength="22.40" lengthAdjust="spacingAndGlyphs" stroke="#fff" stroke-width="0.15">21.5</text>
</g>
<g transform="translate(322.80 891.20) rotate(-90)">
<text x="-6.50" y="4.87" font-family="Liberation Sans, sans-serif" font-size="13.90" fill="#2a2a2a" textLength="13.00" lengthAdjust="spacingAndGlyphs" stroke="#fff" stroke-width="0.15">18</text>
</g>
<g transform="translate(322.80 958.20) rotate(-90)">
<text x="-10.80" y="4.87" font-family="Liberation Sans, sans-serif" font-size="13.90" fill="#2a2a2a" textLength="21.60" lengthAdjust="spacingAndGlyphs" stroke="#fff" stroke-width="0.15">13.5</text>
</g>
<line x1="420.80" y1="734.60" x2="559.60" y2="734.60" stroke="#2a2a2a" stroke-width="0.85"/>
<line x1="495.60" y1="766.70" x2="543.20" y2="766.70" stroke="#1a1a1a" stroke-width="1.00"/>
<line x1="490.60" y1="818.40" x2="525.20" y2="818.40" stroke="#2a2a2a" stroke-width="0.85"/>
<line x1="490.60" y1="968.70" x2="525.20" y2="968.70" stroke="#2a2a2a" stroke-width="0.85"/>
<line x1="495.60" y1="986.20" x2="559.60" y2="986.20" stroke="#2a2a2a" stroke-width="0.85"/>
<line x1="522.00" y1="734.60" x2="522.00" y2="968.70" stroke="#2a2a2a" stroke-width="0.85"/>
<line x1="522.00" y1="986.20" x2="522.00" y2="1004.60" stroke="#2a2a2a" stroke-width="0.85"/>
<line x1="540.00" y1="766.70" x2="540.00" y2="986.20" stroke="#2a2a2a" stroke-width="0.85"/>
<line x1="557.00" y1="734.60" x2="557.00" y2="986.20" stroke="#2a2a2a" stroke-width="0.85"/>
<polygon points="522.00,734.60 523.30,742.60 520.70,742.60" fill="#1a1a1a"/>
<polygon points="522.00,766.70 520.70,758.70 523.30,758.70" fill="#1a1a1a"/>
<polygon points="522.00,766.70 523.30,774.70 520.70,774.70" fill="#1a1a1a"/>
<polygon points="522.00,818.40 520.70,810.40 523.30,810.40" fill="#1a1a1a"/>
<polygon points="522.00,818.40 523.30,826.40 520.70,826.40" fill="#1a1a1a"/>
<polygon points="522.00,968.70 520.70,960.70 523.30,960.70" fill="#1a1a1a"/>
<polygon points="522.00,986.20 523.30,994.20 520.70,994.20" fill="#1a1a1a"/>
<polygon points="540.00,766.70 541.30,774.70 538.70,774.70" fill="#1a1a1a"/>
<polygon points="540.00,986.20 538.70,978.20 541.30,978.20" fill="#1a1a1a"/>
<polygon points="557.00,734.60 558.30,742.60 555.70,742.60" fill="#1a1a1a"/>
<polygon points="557.00,986.20 555.70,978.20 558.30,978.20" fill="#1a1a1a"/>
<g transform="translate(514.60 750.60) rotate(-90)">
<text x="-7.10" y="4.87" font-family="Liberation Sans, sans-serif" font-size="13.90" fill="#2a2a2a" textLength="14.20" lengthAdjust="spacingAndGlyphs" stroke="#fff" stroke-width="0.15">7.5</text>
</g>
<g transform="translate(514.60 792.40) rotate(-90)">
<text x="-10.10" y="4.87" font-family="Liberation Sans, sans-serif" font-size="13.90" fill="#2a2a2a" textLength="20.20" lengthAdjust="spacingAndGlyphs" stroke="#fff" stroke-width="0.15">12.5</text>
</g>
<g transform="translate(514.60 893.00) rotate(-90)">
<text x="-6.00" y="4.87" font-family="Liberation Sans, sans-serif" font-size="13.90" fill="#2a2a2a" textLength="12.00" lengthAdjust="spacingAndGlyphs" stroke="#fff" stroke-width="0.15">36</text>
</g>
<g transform="translate(514.60 977.60) rotate(-90)">
<text x="-8.00" y="4.87" font-family="Liberation Sans, sans-serif" font-size="13.90" fill="#2a2a2a" textLength="16.00" lengthAdjust="spacingAndGlyphs" stroke="#fff" stroke-width="0.15">4.5</text>
</g>
<g transform="translate(532.00 872.40) rotate(-90)">
<text x="-6.00" y="4.87" font-family="Liberation Sans, sans-serif" font-size="13.90" fill="#2a2a2a" textLength="12.00" lengthAdjust="spacingAndGlyphs" stroke="#fff" stroke-width="0.15">53</text>
</g>
<g transform="translate(549.60 860.40) rotate(-90)">
<text x="-10.70" y="4.87" font-family="Liberation Sans, sans-serif" font-size="13.90" fill="#2a2a2a" textLength="21.40" lengthAdjust="spacingAndGlyphs" stroke="#fff" stroke-width="0.15">60.5</text>
</g>
<line x1="369.30" y1="947.50" x2="369.30" y2="1016.40" stroke="#2a2a2a" stroke-width="0.85"/>
<line x1="472.60" y1="987.20" x2="472.60" y2="1016.40" stroke="#2a2a2a" stroke-width="0.85"/>
<line x1="369.30" y1="1014.30" x2="472.60" y2="1014.30" stroke="#2a2a2a" stroke-width="0.85"/>
<polygon points="369.30,1014.30 377.30,1013.00 377.30,1015.60" fill="#1a1a1a"/>
<polygon points="472.60,1014.30 464.60,1015.60 464.60,1013.00" fill="#1a1a1a"/>
<text x="414.60" y="1012.47" font-family="Liberation Sans, sans-serif" font-size="13.90" fill="#2a2a2a" textLength="12.40" lengthAdjust="spacingAndGlyphs" stroke="#fff" stroke-width="0.15">25</text>
<line x1="348.80" y1="987.60" x2="348.80" y2="1034.00" stroke="#2a2a2a" stroke-width="0.85"/>
<line x1="493.20" y1="988.40" x2="493.20" y2="1034.00" stroke="#2a2a2a" stroke-width="0.85"/>
<line x1="348.80" y1="1031.30" x2="493.20" y2="1031.30" stroke="#2a2a2a" stroke-width="0.85"/>
<polygon points="348.80,1031.30 356.80,1030.00 356.80,1032.60" fill="#1a1a1a"/>
<polygon points="493.20,1031.30 485.20,1032.60 485.20,1030.00" fill="#1a1a1a"/>
<text x="414.60" y="1029.27" font-family="Liberation Sans, sans-serif" font-size="13.90" fill="#2a2a2a" textLength="12.40" lengthAdjust="spacingAndGlyphs" stroke="#fff" stroke-width="0.15">35</text>
<text x="264.30" y="1009.20" font-family="Liberation Sans, sans-serif" font-size="13.40" fill="#2a2a2a" textLength="10.40" lengthAdjust="spacingAndGlyphs" stroke="#fff" stroke-width="0.15">4-</text>
<circle cx="281.70" cy="1004.60" r="3.00" fill="none" stroke="#2a2a2a" stroke-width="0.80"/>
<line x1="278.40" y1="1008.20" x2="285.10" y2="1000.80" stroke="#2a2a2a" stroke-width="0.80"/>
<text x="288.30" y="1009.30" font-family="Liberation Serif, sans-serif" font-size="14.60" fill="#2a2a2a" textLength="15.00" lengthAdjust="spacingAndGlyphs">4.5</text>
<text x="304.40" y="1008.90" font-family="Liberation Serif, Noto Serif CJK SC, serif" font-size="13.70" fill="#2a2a2a" textLength="27.20">通孔</text>
<polyline points="334.80,1006.70 340.20,1006.70 361.00,942.00" fill="none" stroke="#2a2a2a" stroke-width="0.85"/>
<polygon points="361.40,940.80 360.19,948.81 357.71,948.02" fill="#1a1a1a"/>
<!-- left view -->
<rect x="149.40" y="766.50" width="1.90" height="219.60" fill="#c4c4c4" stroke="none" stroke-width="0.00"/>
<rect x="233.00" y="766.50" width="2.20" height="219.60" fill="#c4c4c4" stroke="none" stroke-width="0.00"/>
<rect x="149.00" y="766.50" width="86.60" height="219.60" fill="none" stroke="#1a1a1a" stroke-width="1.10"/>
<line x1="151.50" y1="766.50" x2="151.50" y2="986.10" stroke="#1a1a1a" stroke-width="0.90"/>
<line x1="232.70" y1="766.50" x2="232.70" y2="986.10" stroke="#1a1a1a" stroke-width="0.90"/>
<path d="M174.5 766.4V743.7A21.6 21.6 0 0 1 209.6 743.7V766.4M174.5 743.7H209.6" fill="none" stroke="#1a1a1a" stroke-width="1"/>
<line x1="192.40" y1="728.00" x2="192.40" y2="918.20" stroke="#141414" stroke-width="0.95"/>
<line x1="192.40" y1="937.00" x2="192.40" y2="990.20" stroke="#141414" stroke-width="0.95"/>
<circle cx="192.40" cy="894.00" r="19.00" fill="none" stroke="#1a1a1a" stroke-width="1.00"/>
<circle cx="192.40" cy="894.00" r="17.50" fill="none" stroke="#1a1a1a" stroke-width="1.00"/>
<circle cx="192.40" cy="894.00" r="9.10" fill="none" stroke="#1a1a1a" stroke-width="0.90"/>
<line x1="166.00" y1="894.00" x2="218.20" y2="894.00" stroke="#141414" stroke-width="0.95"/>
<line x1="220.60" y1="894.00" x2="265.20" y2="894.00" stroke="#2a2a2a" stroke-width="0.85"/>
<text x="179.60" y="933.10" font-family="Liberation Sans, sans-serif" font-size="16.80" fill="#2a2a2a" textLength="22.00" lengthAdjust="spacingAndGlyphs" stroke="#fff" stroke-width="0.15">OUT</text>
<line x1="237.60" y1="766.50" x2="265.20" y2="766.50" stroke="#2a2a2a" stroke-width="0.85"/>
<line x1="238.00" y1="986.10" x2="265.20" y2="986.10" stroke="#2a2a2a" stroke-width="0.85"/>
<line x1="261.40" y1="766.50" x2="261.40" y2="986.10" stroke="#2a2a2a" stroke-width="0.85"/>
<polygon points="261.40,766.50 262.70,774.50 260.10,774.50" fill="#1a1a1a"/>
<polygon points="261.40,894.00 260.10,886.00 262.70,886.00" fill="#1a1a1a"/>
<polygon points="261.40,894.00 262.70,902.00 260.10,902.00" fill="#1a1a1a"/>
<polygon points="261.40,986.10 260.10,978.10 262.70,978.10" fill="#1a1a1a"/>
<g transform="translate(254.60 830.00) rotate(-90)">
<text x="-11.00" y="4.87" font-family="Liberation Sans, sans-serif" font-size="13.90" fill="#2a2a2a" textLength="22.00" lengthAdjust="spacingAndGlyphs" stroke="#fff" stroke-width="0.15">30.5</text>
</g>
<g transform="translate(254.60 939.60) rotate(-90)">
<text x="-10.70" y="4.87" font-family="Liberation Sans, sans-serif" font-size="13.90" fill="#2a2a2a" textLength="21.40" lengthAdjust="spacingAndGlyphs" stroke="#fff" stroke-width="0.15">22.5</text>
</g>
<line x1="148.60" y1="989.00" x2="148.60" y2="1017.20" stroke="#2a2a2a" stroke-width="0.85"/>
<line x1="235.60" y1="989.00" x2="235.60" y2="1017.20" stroke="#2a2a2a" stroke-width="0.85"/>
<line x1="148.60" y1="1014.20" x2="235.60" y2="1014.20" stroke="#2a2a2a" stroke-width="0.85"/>
<polygon points="148.60,1014.20 156.60,1012.90 156.60,1015.50" fill="#1a1a1a"/>
<polygon points="235.60,1014.20 227.60,1015.50 227.60,1012.90" fill="#1a1a1a"/>
<text x="186.90" y="1012.07" font-family="Liberation Sans, sans-serif" font-size="13.90" fill="#2a2a2a" textLength="11.00" lengthAdjust="spacingAndGlyphs" stroke="#fff" stroke-width="0.15">21</text>
<!-- right view -->
<rect x="629.00" y="766.50" width="2.00" height="219.60" fill="#c4c4c4" stroke="none" stroke-width="0.00"/>
<rect x="713.80" y="766.50" width="2.00" height="219.60" fill="#c4c4c4" stroke="none" stroke-width="0.00"/>
<rect x="628.60" y="766.50" width="87.60" height="219.60" fill="none" stroke="#1a1a1a" stroke-width="1.10"/>
<line x1="631.20" y1="766.50" x2="631.20" y2="986.10" stroke="#1a1a1a" stroke-width="0.90"/>
<line x1="713.50" y1="766.50" x2="713.50" y2="986.10" stroke="#1a1a1a" stroke-width="0.90"/>
<path d="M654.5 766.4V743.7A21.2 21.2 0 0 1 689.6 743.7V766.4M654.5 743.7H689.6" fill="none" stroke="#1a1a1a" stroke-width="1"/>
<line x1="672.00" y1="728.00" x2="672.00" y2="993.20" stroke="#141414" stroke-width="0.95"/>
<circle cx="672.00" cy="856.00" r="19.00" fill="none" stroke="#1a1a1a" stroke-width="1.00"/>
<circle cx="672.00" cy="856.00" r="17.50" fill="none" stroke="#1a1a1a" stroke-width="1.00"/>
<circle cx="672.00" cy="856.00" r="8.80" fill="none" stroke="#1a1a1a" stroke-width="0.90"/>
<circle cx="672.00" cy="931.40" r="19.00" fill="none" stroke="#1a1a1a" stroke-width="1.00"/>
<circle cx="672.00" cy="931.40" r="17.50" fill="none" stroke="#1a1a1a" stroke-width="1.00"/>
<clipPath id="cpno"><circle cx="672" cy="931.4" r="17.5"/></clipPath>
<circle cx="672" cy="922.4" r="8.8" fill="none" stroke="#1a1a1a" stroke-width="0.9" clip-path="url(#cpno)"/>
<line x1="660.00" y1="922.40" x2="684.40" y2="922.40" stroke="#141414" stroke-width="0.95"/>
<line x1="646.00" y1="856.00" x2="698.20" y2="856.00" stroke="#141414" stroke-width="0.95"/>
<line x1="608.00" y1="856.00" x2="644.00" y2="856.00" stroke="#2a2a2a" stroke-width="0.85"/>
<line x1="646.00" y1="931.40" x2="698.20" y2="931.40" stroke="#141414" stroke-width="0.95"/>
<line x1="608.00" y1="931.40" x2="644.00" y2="931.40" stroke="#2a2a2a" stroke-width="0.85"/>
<text x="665.00" y="830.40" font-family="Liberation Sans, sans-serif" font-size="17.40" fill="#2a2a2a" textLength="15.20" lengthAdjust="spacingAndGlyphs" stroke="#fff" stroke-width="0.15">NC</text>
<text x="665.00" y="906.70" font-family="Liberation Sans, sans-serif" font-size="17.40" fill="#2a2a2a" textLength="15.60" lengthAdjust="spacingAndGlyphs" stroke="#fff" stroke-width="0.15">NO</text>
<line x1="608.00" y1="766.50" x2="626.40" y2="766.50" stroke="#2a2a2a" stroke-width="0.85"/>
<line x1="608.00" y1="986.10" x2="626.40" y2="986.10" stroke="#2a2a2a" stroke-width="0.85"/>
<line x1="611.40" y1="766.50" x2="611.40" y2="986.10" stroke="#2a2a2a" stroke-width="0.85"/>
<polygon points="611.40,766.50 612.70,774.50 610.10,774.50" fill="#1a1a1a"/>
<polygon points="611.40,856.00 610.10,848.00 612.70,848.00" fill="#1a1a1a"/>
<polygon points="611.40,856.00 612.70,864.00 610.10,864.00" fill="#1a1a1a"/>
<polygon points="611.40,931.40 610.10,923.40 612.70,923.40" fill="#1a1a1a"/>
<polygon points="611.40,931.40 612.70,939.40 610.10,939.40" fill="#1a1a1a"/>
<polygon points="611.40,986.10 610.10,978.10 612.70,978.10" fill="#1a1a1a"/>
<g transform="translate(604.40 811.00) rotate(-90)">
<text x="-11.00" y="4.87" font-family="Liberation Sans, sans-serif" font-size="13.90" fill="#2a2a2a" textLength="22.00" lengthAdjust="spacingAndGlyphs" stroke="#fff" stroke-width="0.15">21.5</text>
</g>
<g transform="translate(604.40 893.00) rotate(-90)">
<text x="-6.00" y="4.87" font-family="Liberation Sans, sans-serif" font-size="13.90" fill="#2a2a2a" textLength="12.00" lengthAdjust="spacingAndGlyphs" stroke="#fff" stroke-width="0.15">18</text>
</g>
<g transform="translate(604.40 958.60) rotate(-90)">
<text x="-10.00" y="4.87" font-family="Liberation Sans, sans-serif" font-size="13.90" fill="#2a2a2a" textLength="20.00" lengthAdjust="spacingAndGlyphs" stroke="#fff" stroke-width="0.15">13.5</text>
</g>
<text x="592.40" y="1010.20" font-family="Liberation Sans, sans-serif" font-size="14.60" fill="#2a2a2a" textLength="45.60" lengthAdjust="spacingAndGlyphs" stroke="#fff" stroke-width="0.15">3-PT1/8</text>
<polyline points="639.60,1007.60 645.20,1007.60 659.60,950.40" fill="none" stroke="#2a2a2a" stroke-width="0.85"/>
<polygon points="660.00,949.00 659.30,957.07 656.78,956.44" fill="#1a1a1a"/>
</svg>
</body></html>
